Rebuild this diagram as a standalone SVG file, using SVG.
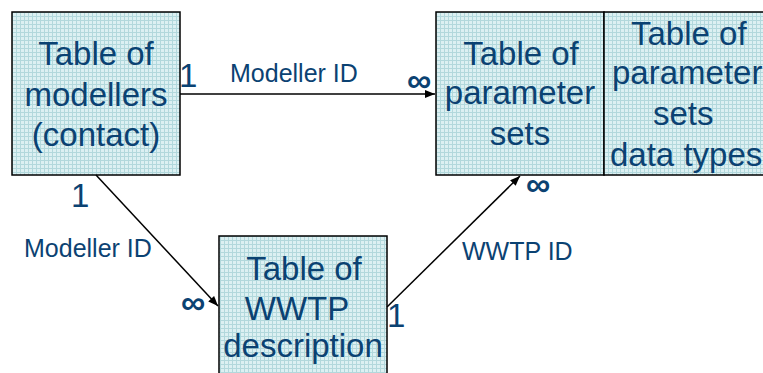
<svg xmlns="http://www.w3.org/2000/svg" width="763" height="373" viewBox="0 0 763 373">
<defs>
<pattern id="grid" width="4" height="4" patternUnits="userSpaceOnUse">
<rect width="4" height="4" fill="#dcf0f2"/>
<path d="M0 0.5H4M0.5 0V4" stroke="#b2d8dc" stroke-width="1" fill="none"/>
</pattern>
<marker id="arr" viewBox="0 0 10 8" refX="10" refY="4" markerWidth="11" markerHeight="8" markerUnits="userSpaceOnUse" orient="auto">
<path d="M0 0L10 4L0 8z" fill="#000"/>
</marker>
<style>
.box{fill:url(#grid);stroke:#000;stroke-width:1.5}
.bt{font-family:"Liberation Sans",Arial,sans-serif;font-size:33px;fill:#0b4272;text-anchor:middle}
.bs{font-family:"Liberation Sans",Arial,sans-serif;font-size:33px;fill:#0b4272}
.lb{font-family:"Liberation Sans",Arial,sans-serif;font-size:25px;fill:#0b4272}
.card{font-family:"Liberation Sans",Arial,sans-serif;font-size:33px;fill:#0b4272}
.inf{font-family:"Liberation Sans",Arial,sans-serif;font-size:34px;fill:#0b4272;font-weight:bold}
.cn{stroke:#000;stroke-width:1.5;fill:none;marker-end:url(#arr)}
</style>
</defs>
<rect width="763" height="373" fill="#fff"/>
<g id="modellers">
<rect class="box" x="12" y="12" width="168" height="163"/>
<text class="bt" x="96" y="65">Table of</text>
<text class="bt" x="96" y="106">modellers</text>
<text class="bt" x="96" y="146">(contact)</text>
</g>
<g id="paramsets">
<rect class="box" x="436" y="12" width="168" height="163"/>
<text class="bt" x="521" y="65">Table of</text>
<text class="bt" x="520" y="104">parameter</text>
<text class="bt" x="520" y="145">sets</text>
</g>
<g id="datatypes">
<rect class="box" x="604" y="12" width="170" height="163"/>
<text class="bs" x="631" y="45">Table of</text>
<text class="bs" x="612" y="84">parameter</text>
<text class="bs" x="653" y="125">sets</text>
<text class="bs" x="610" y="166">data types</text>
</g>
<g id="wwtp">
<rect class="box" x="219" y="236" width="168" height="150"/>
<text class="bt" x="304" y="280">Table of</text>
<text class="bt" x="297" y="320">WWTP</text>
<text class="bt" x="303" y="357">description</text>
</g>
<g id="connectors">
<line class="cn" x1="180" y1="94" x2="435" y2="94"/>
<line class="cn" x1="96" y1="175" x2="218" y2="306"/>
<line class="cn" x1="387" y1="307" x2="520" y2="176"/>
</g>
<g id="labels">
<text class="card" x="179" y="87">1</text>
<text class="lb" x="230" y="82">Modeller ID</text>
<text class="inf" x="407" y="92">∞</text>
<text class="card" x="71" y="207">1</text>
<text class="lb" x="24" y="257">Modeller ID</text>
<text class="inf" x="181" y="314">∞</text>
<text class="card" x="387" y="327">1</text>
<text class="lb" x="462" y="260">WWTP ID</text>
<text class="inf" x="526" y="196">∞</text>
</g>
</svg>
